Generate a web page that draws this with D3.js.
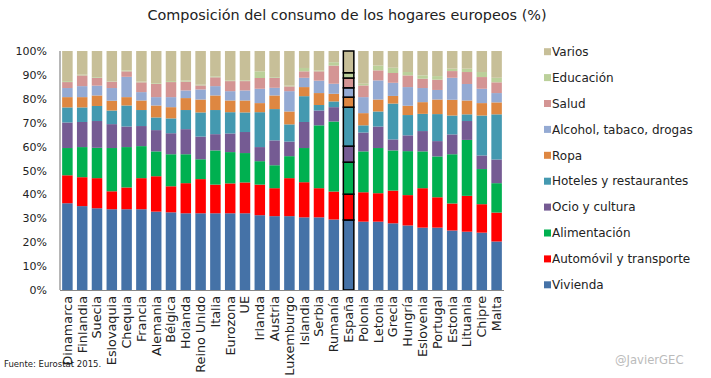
<!DOCTYPE html>
<html><head><meta charset="utf-8">
<script src="https://cdn.jsdelivr.net/npm/d3@7"></script>
<style>body{margin:0;background:#fff}svg{display:block}text{font-family:"DejaVu Sans",sans-serif;fill:#222}</style>
</head><body>
<svg id="c" width="711" height="378"></svg>
<script>
const countries = ["Dinamarca","Finlandia","Suecia","Eslovaquia","Chequia","Francia","Alemania","Bélgica","Holanda","Reino Unido","Italia","Eurozona","UE","Irlanda","Austria","Luxemburgo","Islandia","Serbia","Rumanía","España","Polonia","Letonia","Grecia","Hungría","Eslovenia","Portugal","Estonia","Lituania","Chipre","Malta"];
const seriesNames = ["Vivienda","Automóvil y transporte","Alimentación","Ocio y cultura","Hoteles y restaurantes","Ropa","Alcohol, tabaco, drogas","Salud","Educación","Varios"];
const vivienda     = [36.3,35.1,34.2,33.8,33.8,33.8,32.8,32.5,32.1,32.1,32.1,32.1,32.1,31.3,30.9,30.9,30.4,30.4,29.5,29.3,28.6,28.6,27.9,27.0,26.1,26.1,24.9,24.4,24.0,20.3];
const automovil    = [11.7,12.1,12.6,7.5,9.1,13.0,14.8,10.9,12.6,14.3,12.0,12.5,12.9,12.8,11.7,15.9,14.7,12.2,11.7,10.8,12.3,11.9,13.7,12.7,16.5,12.7,11.3,15.0,11.9,12.1];
const alimentacion = [11.4,12.6,12.7,18.1,16.9,13.4,10.4,13.4,12.1,8.3,14.3,13.1,12.3,9.8,9.6,9.2,14.3,26.3,29.3,13.4,17.1,18.9,16.8,18.4,15.4,17.1,20.6,23.4,14.7,12.3];
const ocio         = [10.7,10.5,11.2,10.0,8.6,8.4,8.9,8.8,10.5,9.5,6.8,7.8,8.8,5.9,10.4,6.1,10.9,6.2,6.0,6.7,7.9,9.0,4.6,6.6,8.5,6.4,8.3,7.9,5.7,9.9];
const hoteles      = [6.3,6.1,6.3,5.7,8.8,6.7,5.3,6.2,8.0,10.1,10.1,8.9,8.2,14.6,13.1,7.2,10.8,2.3,2.4,16.3,3.0,6.3,15.0,8.5,7.2,11.3,7.9,2.8,16.7,18.9];
const ropa         = [4.3,4.3,4.4,4.1,3.5,4.0,5.0,4.7,5.0,5.4,6.1,4.9,5.0,3.8,5.7,5.4,3.8,5.0,3.2,4.2,5.1,5.0,3.2,3.9,4.9,6.1,6.6,5.8,5.2,5.0];
const alcohol      = [3.8,4.6,4.1,5.3,8.5,3.5,3.5,4.2,3.2,4.2,3.9,3.9,4.2,6.0,3.2,8.5,3.9,5.2,4.2,3.9,6.7,8.0,5.5,7.8,5.9,4.0,9.2,6.9,6.0,3.9];
const salud        = [2.5,4.5,3.3,2.7,2.3,4.1,5.5,6.3,3.7,1.7,3.7,4.2,3.9,4.5,4.2,2.0,2.7,3.9,7.6,4.1,4.9,4.2,4.1,4.9,3.9,4.3,2.8,5.0,4.9,4.5];
const educacion    = [0.4,0.3,0.3,0.2,0.4,0.3,0.3,0.4,0.4,0.3,0.4,0.3,0.3,2.8,0.3,0.3,1.4,0.4,1.4,2.2,0.7,2.0,2.2,1.4,1.4,1.5,1.0,1.4,2.1,1.9];
const varios       = [12.6,9.9,10.9,12.6,8.1,12.8,13.5,12.6,12.4,14.1,10.6,12.3,12.3,8.5,10.9,14.5,7.1,8.1,4.7,9.1,13.7,6.1,7.0,8.8,10.2,10.5,7.4,7.4,8.8,11.2];
const yTicks = [0,10,20,30,40,50,60,70,80,90,100];
const colors = ["#4572A7","#FF0000","#00B050","#755B93","#4499B0","#DE8741","#94AAD3","#D49594","#BBD09A","#C7BF98"];
const highlight = "España";

const values = [vivienda,automovil,alimentacion,ocio,hoteles,ropa,alcohol,salud,educacion,varios];
const rows = countries.map((c,i)=>{const r={country:c};seriesNames.forEach((s,k)=>r[s]=values[k][i]);return r;});
const stacked = d3.stack().keys(seriesNames).offset(d3.stackOffsetExpand)(rows);

const svg = d3.select("#c");
const pL=60,pR=504,pT=51,pB=290;
const x = d3.scaleBand().domain(countries).range([pL,pR]).paddingInner(0.29).paddingOuter(0.145);
const y = d3.scaleLinear().domain([0,1]).range([pB,pT]);

// bars
const g = svg.append("g");
stacked.forEach((layer,k)=>{
  g.selectAll(null).data(layer).enter().append("rect")
    .attr("x",d=>x(d.data.country))
    .attr("width",x.bandwidth())
    .attr("y",d=>y(d[1]))
    .attr("height",d=>y(d[0])-y(d[1]))
    .attr("fill",colors[k])
    .attr("stroke",d=>d.data.country===highlight?"#000":"none")
    .attr("stroke-width",1.5);
});

// axes
svg.append("line").attr("x1",pL).attr("x2",pL).attr("y1",pT).attr("y2",pB).attr("stroke","#888").attr("stroke-width",1.2);
svg.append("line").attr("x1",pL).attr("x2",pR).attr("y1",pB+0.5).attr("y2",pB+0.5).attr("stroke","#888").attr("stroke-width",1.2);

const yAxis = d3.axisLeft(y).tickValues(yTicks.map(v=>v/100)).tickFormat(d=>Math.round(d*100)+"%").tickSize(0).tickPadding(13);
const ya = svg.append("g").attr("transform",`translate(${pL},0)`).call(yAxis);
ya.select(".domain").remove();
ya.selectAll("text").style("font-size","11px").style("font-family","DejaVu Sans").attr("fill","#222");

const xAxis = d3.axisBottom(x).tickSize(0).tickPadding(0);
const xa = svg.append("g").attr("transform",`translate(0,${pB})`).call(xAxis);
xa.select(".domain").remove();
xa.selectAll("text").style("font-size","12.8px").style("font-family","DejaVu Sans").attr("fill","#222")
  .attr("transform","rotate(-90)").attr("text-anchor","end").attr("dy","0.35em").attr("x",-6).attr("y",0);

// title
svg.append("text").attr("x",347).attr("y",20).attr("text-anchor","middle").style("font-size","14.4px").text("Composición del consumo de los hogares europeos (%)");

// legend
const lg = svg.append("g");
seriesNames.slice().reverse().forEach((s,i)=>{
  const k = seriesNames.length-1-i;
  const cy = 51.7 + i*25.9;
  lg.append("rect").attr("x",544).attr("y",cy-3.5).attr("width",7).attr("height",7).attr("fill",colors[k]);
  lg.append("text").attr("x",552).attr("y",cy).attr("dy","0.35em").style("font-size","12px").text(s);
});

svg.append("text").attr("x",4).attr("y",367).style("font-size","8.5px").text("Fuente: Eurostat 2015.");
svg.append("text").attr("x",615).attr("y",364).style("font-size","11.6px").style("fill","#bbb").text("@JavierGEC");
</script>
</body></html>
